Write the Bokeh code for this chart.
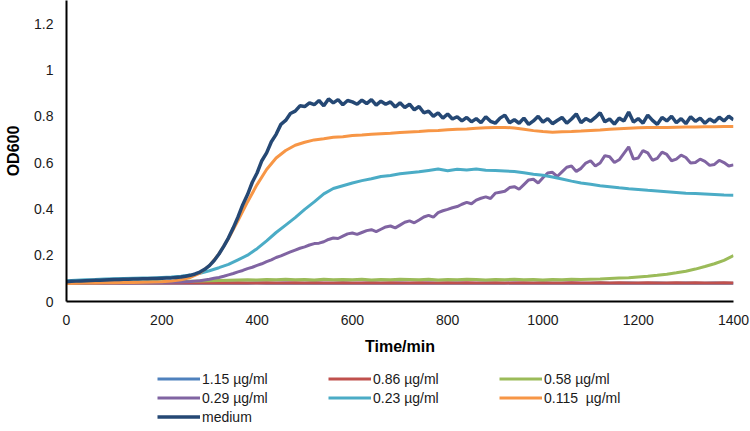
from bokeh.plotting import figure
from bokeh.models import Legend, LegendItem, FixedTicker
from bokeh.layouts import column
from bokeh.embed import file_html
from bokeh.resources import INLINE

time_10 = list(range(0, 1401, 10))
time_20 = list(range(0, 1401, 20))

medium = [0.085, 0.087, 0.088, 0.089, 0.090, 0.091, 0.092, 0.092, 0.093, 0.094,
          0.095, 0.095, 0.096, 0.096, 0.097, 0.097, 0.098, 0.098, 0.099, 0.099,
          0.100, 0.101, 0.102, 0.104, 0.106, 0.109, 0.113, 0.119, 0.127, 0.139,
          0.155, 0.177, 0.205, 0.238, 0.275, 0.318, 0.365, 0.418, 0.462, 0.515,
          0.555, 0.608, 0.642, 0.690, 0.722, 0.765, 0.782, 0.812, 0.822, 0.845,
          0.842, 0.858, 0.850, 0.868, 0.845, 0.875, 0.858, 0.872, 0.850, 0.868,
          0.862, 0.852, 0.870, 0.855, 0.872, 0.848, 0.865, 0.852, 0.862, 0.840,
          0.858, 0.838, 0.852, 0.828, 0.842, 0.815, 0.822, 0.800, 0.815, 0.792,
          0.810, 0.788, 0.798, 0.780, 0.795, 0.776, 0.790, 0.772, 0.798, 0.778,
          0.770, 0.792, 0.805, 0.772, 0.785, 0.770, 0.792, 0.765, 0.780, 0.800,
          0.775, 0.790, 0.768, 0.782, 0.795, 0.770, 0.788, 0.810, 0.772, 0.790,
          0.778, 0.795, 0.815, 0.776, 0.788, 0.766, 0.792, 0.780, 0.818, 0.775,
          0.790, 0.770, 0.805, 0.782, 0.765, 0.795, 0.780, 0.800, 0.772, 0.790,
          0.768, 0.798, 0.778, 0.792, 0.770, 0.788, 0.775, 0.796, 0.780, 0.800,
          0.785]

c029 = [0.080, 0.080, 0.080, 0.080, 0.080, 0.081, 0.081, 0.081, 0.081, 0.081,
        0.081, 0.081, 0.081, 0.081, 0.081, 0.082, 0.082, 0.082, 0.082, 0.082,
        0.082, 0.083, 0.083, 0.084, 0.084, 0.085, 0.086, 0.088, 0.090, 0.093,
        0.096, 0.100, 0.104, 0.109, 0.115, 0.121, 0.128, 0.134, 0.142, 0.148,
        0.156, 0.163, 0.172, 0.180, 0.190, 0.197, 0.206, 0.214, 0.222, 0.230,
        0.236, 0.244, 0.250, 0.252, 0.258, 0.268, 0.274, 0.272, 0.282, 0.292,
        0.296, 0.290, 0.298, 0.306, 0.310, 0.302, 0.312, 0.322, 0.326, 0.318,
        0.330, 0.342, 0.348, 0.340, 0.352, 0.365, 0.372, 0.364, 0.384, 0.392,
        0.398, 0.405, 0.410, 0.420, 0.428, 0.422, 0.438, 0.446, 0.452, 0.445,
        0.468, 0.472, 0.476, 0.492, 0.496, 0.485, 0.505, 0.525, 0.528, 0.512,
        0.535, 0.555, 0.558, 0.540, 0.560, 0.580, 0.585, 0.562, 0.575, 0.598,
        0.608, 0.585, 0.598, 0.630, 0.625, 0.600, 0.612, 0.640, 0.668, 0.615,
        0.620, 0.652, 0.642, 0.610, 0.618, 0.645, 0.635, 0.608, 0.615, 0.632,
        0.622, 0.598, 0.600, 0.615, 0.605, 0.588, 0.592, 0.610, 0.600, 0.585,
        0.590]

c0115 = [0.078, 0.079, 0.080, 0.080, 0.081, 0.081, 0.082, 0.082, 0.083, 0.084,
         0.085, 0.088, 0.094, 0.104, 0.123, 0.155, 0.205, 0.272, 0.350, 0.430,
         0.505, 0.570, 0.620, 0.652, 0.675, 0.688, 0.698, 0.703, 0.709, 0.712,
         0.717, 0.719, 0.722, 0.725, 0.727, 0.730, 0.732, 0.734, 0.737, 0.739,
         0.742, 0.744, 0.745, 0.748, 0.750, 0.751, 0.752, 0.749, 0.744, 0.738,
         0.734, 0.731, 0.733, 0.734, 0.736, 0.739, 0.741, 0.744, 0.746, 0.748,
         0.750, 0.751, 0.752, 0.752, 0.753, 0.754, 0.754, 0.755, 0.755, 0.756,
         0.756]

c023 = [0.090, 0.092, 0.094, 0.095, 0.097, 0.098, 0.099, 0.100, 0.101, 0.102,
        0.104, 0.106, 0.109, 0.114, 0.122, 0.133, 0.146, 0.160, 0.180, 0.200,
        0.228, 0.262, 0.298, 0.330, 0.362, 0.398, 0.430, 0.465, 0.488, 0.500,
        0.512, 0.522, 0.530, 0.540, 0.544, 0.552, 0.556, 0.560, 0.566, 0.572,
        0.565, 0.571, 0.568, 0.572, 0.567, 0.566, 0.564, 0.561, 0.556, 0.550,
        0.545, 0.538, 0.529, 0.520, 0.512, 0.506, 0.500, 0.496, 0.491, 0.487,
        0.484, 0.480, 0.477, 0.474, 0.471, 0.468, 0.466, 0.464, 0.462, 0.460,
        0.459]

c058 = [0.080, 0.081, 0.081, 0.082, 0.082, 0.083, 0.083, 0.084, 0.084, 0.085,
        0.085, 0.086, 0.087, 0.088, 0.089, 0.090, 0.091, 0.092, 0.093, 0.094,
        0.093, 0.095, 0.094, 0.096, 0.094, 0.095, 0.093, 0.096, 0.094, 0.095,
        0.094, 0.096, 0.093, 0.095, 0.094, 0.096, 0.095, 0.094, 0.096, 0.093,
        0.095, 0.094, 0.096, 0.095, 0.093, 0.095, 0.094, 0.096, 0.094, 0.095,
        0.093, 0.095, 0.094, 0.096, 0.095, 0.096, 0.097, 0.099, 0.101, 0.103,
        0.106, 0.109, 0.113, 0.118, 0.124, 0.131, 0.140, 0.151, 0.163, 0.178,
        0.198]

c086 = [0.080, 0.080, 0.081, 0.080, 0.080, 0.081, 0.080, 0.081, 0.080, 0.080,
        0.081, 0.080, 0.080, 0.081, 0.080, 0.080, 0.081, 0.080, 0.081, 0.080,
        0.080, 0.081, 0.080, 0.080, 0.081, 0.080, 0.081, 0.080, 0.080, 0.081,
        0.080, 0.080, 0.081, 0.080, 0.081, 0.080, 0.080, 0.081, 0.080, 0.080,
        0.081, 0.080, 0.081, 0.080, 0.080, 0.081, 0.080, 0.080, 0.081, 0.080,
        0.081, 0.080, 0.080, 0.081, 0.080, 0.080, 0.081, 0.080, 0.081, 0.080,
        0.080, 0.081, 0.080, 0.080, 0.081, 0.080, 0.081, 0.080, 0.080, 0.081,
        0.080]

c115 = [0.079, 0.079, 0.080, 0.079, 0.079, 0.080, 0.079, 0.079, 0.080, 0.079,
        0.079, 0.080, 0.079, 0.079, 0.080, 0.079, 0.079, 0.080, 0.079, 0.079,
        0.080, 0.079, 0.079, 0.080, 0.079, 0.079, 0.080, 0.079, 0.079, 0.080,
        0.079, 0.079, 0.080, 0.079, 0.079, 0.080, 0.079, 0.079, 0.080, 0.079,
        0.079, 0.080, 0.079, 0.079, 0.080, 0.079, 0.079, 0.080, 0.079, 0.079,
        0.080, 0.079, 0.079, 0.080, 0.079, 0.079, 0.080, 0.079, 0.079, 0.080,
        0.079, 0.079, 0.080, 0.079, 0.079, 0.080, 0.079, 0.079, 0.080, 0.079,
        0.079]

labels = ["1.15 µg/ml", "0.86 µg/ml", "0.58 µg/ml",
          "0.29 µg/ml", "0.23 µg/ml", "0.115  µg/ml", "medium"]
series = [c115, c086, c058, c029, c023, c0115, medium]
times = [time_20, time_20, time_20, time_10, time_20, time_20, time_10]
colors = ["#4F81BD", "#C0504D", "#9BBB59", "#8064A2", "#4BACC6", "#F79646", "#254874"]
widths = [3, 3, 3, 3, 3, 3, 3.5]

x_ticks = [0, 200, 400, 600, 800, 1000, 1200, 1400]
y_ticks = [0, 0.2, 0.4, 0.6, 0.8, 1.0, 1.2]
y_tick_labels = ["0", "0.2", "0.4", "0.6", "0.8", "1", "1.2"]

for t, s in zip(times, series):
    assert len(s) == len(t), len(s)

FONT = "Liberation Sans"

p = figure(width=750, height=365, x_range=(0, 1400), y_range=(0, 1.3),
           output_backend="svg", toolbar_location=None,
           min_border_left=66, min_border_right=17, min_border_top=0, min_border_bottom=64)
p.outline_line_color = None
p.xgrid.visible = False
p.ygrid.visible = False

for t, s, c, w in zip(times, series, colors, widths):
    p.line(t, s, line_color=c, line_width=w)

for ax in (p.xaxis[0], p.yaxis[0]):
    ax.axis_line_color = "black"
    ax.axis_line_width = 2
    ax.major_tick_out = 0
    ax.major_tick_in = 0
    ax.minor_tick_out = 0
    ax.minor_tick_in = 0
    ax.major_label_text_font = FONT
    ax.major_label_text_font_size = "14px"
    ax.major_label_text_color = "#1a1a1a"
    ax.axis_label_text_font = FONT
    ax.axis_label_text_font_style = "bold"
    ax.axis_label_text_font_size = "16px"
    ax.axis_label_text_color = "black"

p.xaxis.ticker = FixedTicker(ticks=x_ticks)
p.yaxis.ticker = FixedTicker(ticks=y_ticks)
p.yaxis.major_label_overrides = {t: l for t, l in zip(y_ticks, y_tick_labels)}
p.xaxis.axis_label = "Time/min"
p.yaxis.axis_label = "OD600"
p.xaxis.major_label_standoff = 13
p.xaxis.axis_label_standoff = 10
p.yaxis.major_label_standoff = 13
p.yaxis.axis_label_standoff = 9

# legend panel underneath the chart
lg = figure(width=750, height=66, x_range=(0, 1), y_range=(0, 1),
            output_backend="svg", toolbar_location=None,
            x_axis_location=None, y_axis_location=None,
            min_border_left=66, min_border_right=17, min_border_top=0, min_border_bottom=0)
lg.outline_line_color = None
lg.xgrid.visible = False
lg.ygrid.visible = False
nan = float("nan")
items = []
for l, c, w in zip(labels, colors, widths):
    r = lg.line(x=[nan], y=[nan], line_color=c, line_width=w)
    items.append(LegendItem(label=l, renderers=[r]))
legend = Legend(items=items, orientation="horizontal", ncols=3,
                location=(91, 5), margin=0, padding=0, spacing=0,
                glyph_width=43, glyph_height=19, label_height=19, label_width=126,
                label_standoff=2, label_text_font=FONT, label_text_font_size="14px",
                label_text_color="#1a1a1a", border_line_color=None,
                background_fill_alpha=0)
lg.add_layout(legend, "center")

layout = column(p, lg, spacing=0)
open("out.html", "w").write(file_html(layout, INLINE))
